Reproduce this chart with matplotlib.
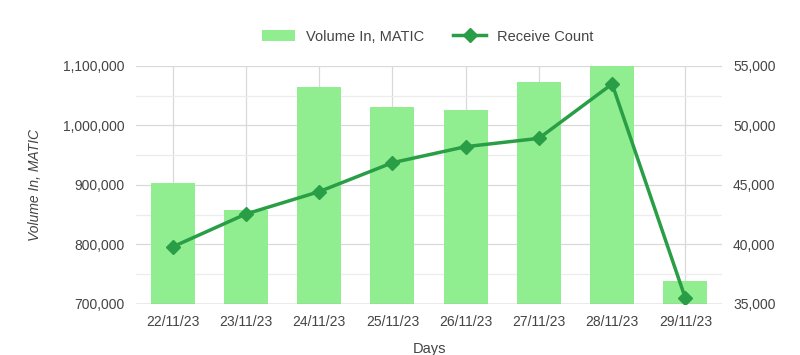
import matplotlib
matplotlib.use("Agg")
import matplotlib.pyplot as plt
from matplotlib.ticker import FuncFormatter, MultipleLocator

# -----------------------------
# Data
# -----------------------------

days = ["22/11/23", "23/11/23", "24/11/23", "25/11/23",
        "26/11/23", "27/11/23", "28/11/23", "29/11/23"]
volume_in = [904000, 858000, 1065000, 1030500, 1026000, 1073500, 1100000, 739000]
receive_count = [39800, 42560, 44440, 46870, 48220, 48920, 53490, 35480]

plt.rcParams["font.family"] = ["Liberation Sans", "DejaVu Sans"]

BAR_COLOR = "#90ee90"
LINE_COLOR = "#2a9e46"
GRID_COLOR = "#d9d9d9"
MINOR_GRID = "#ececec"
TEXT_COLOR = "#444444"

fig = plt.figure(figsize=(8, 3.55), dpi=100)
ax = fig.add_axes([0.17, 0.1437, 0.7325, 0.6704])
ax2 = ax.twinx()

x = list(range(len(days)))

# -----------------------------
# Bars (left axis)
# -----------------------------

ax.bar(x, volume_in, width=0.6, color=BAR_COLOR, zorder=2,
       label="Volume In, MATIC")
ax.set_ylim(700000, 1100000)
ax.set_xlim(-0.5, len(days) - 0.5)
ax.yaxis.set_major_locator(MultipleLocator(100000))
ax.yaxis.set_minor_locator(MultipleLocator(50000))
ax.yaxis.set_major_formatter(FuncFormatter(lambda v, p: f"{int(v):,}"))
ax.set_xticks(x)
ax.set_xticklabels(days)

ax.grid(axis="y", which="major", color=GRID_COLOR, linewidth=0.9, zorder=0)
ax.grid(axis="y", which="minor", color=MINOR_GRID, linewidth=0.9, zorder=0)
ax.grid(axis="x", which="major", color=GRID_COLOR, linewidth=0.9, zorder=0)
ax.set_axisbelow(True)

# -----------------------------
# Line (right axis)
# -----------------------------

ax2.plot(x, receive_count, color=LINE_COLOR, linewidth=2.5, marker="D",
         markersize=7, zorder=3, label="Receive Count")
ax2.set_ylim(35000, 55000)
ax2.yaxis.set_major_locator(MultipleLocator(5000))
ax2.yaxis.set_major_formatter(FuncFormatter(lambda v, p: f"{int(v):,}"))

for a in (ax, ax2):
    for side in ("top", "left", "right", "bottom"):
        a.spines[side].set_visible(False)
    a.tick_params(axis="both", which="both", length=0, labelsize=10,
                  labelcolor=TEXT_COLOR, pad=8)
ax.axhline(700000, color="#aaaaaa", linewidth=1, zorder=4)

ax.set_ylabel("Volume In, MATIC", fontsize=10, style="italic",
              color=TEXT_COLOR, labelpad=15)
ax.set_xlabel("Days", fontsize=10.5, color=TEXT_COLOR, labelpad=9)

# -----------------------------
# Legend
# -----------------------------

h1, l1 = ax.get_legend_handles_labels()
h2, l2 = ax2.get_legend_handles_labels()
leg = fig.legend(h1 + h2, l1 + l2, loc="center", bbox_to_anchor=(0.535, 0.897),
                 ncol=2, frameon=False, fontsize=10.5, handlelength=2.2,
                 columnspacing=2.0)
for t in leg.get_texts():
    t.set_color(TEXT_COLOR)

fig.savefig("out.png", dpi=100)
